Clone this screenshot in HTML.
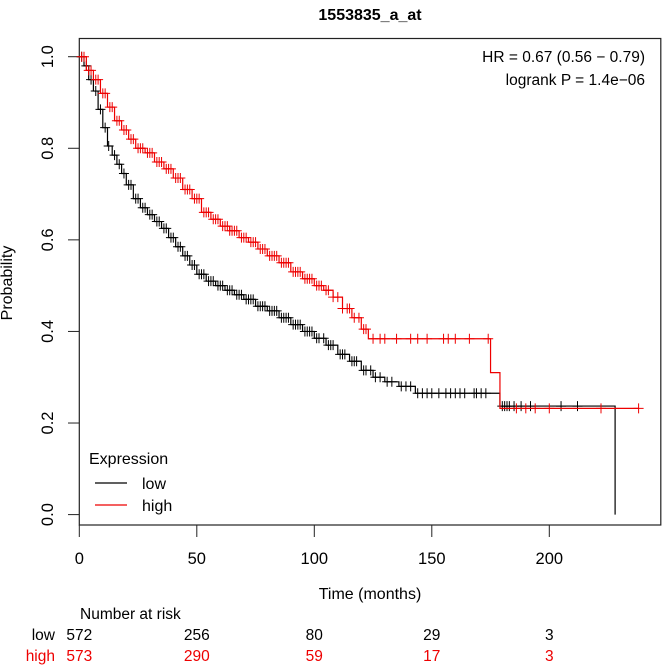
<!DOCTYPE html>
<html><head><meta charset="utf-8"><style>
body{margin:0;background:#fff;}
svg{display:block;font-family:"Liberation Sans",Arial,sans-serif;}
</style></head><body>
<svg id="chart" width="662" height="665" viewBox="0 0 662 665">
<text x="370" y="20" text-anchor="middle" font-size="16" font-weight="bold">1553835_a_at</text>
<rect x="79.3" y="38.5" width="581.5" height="486.5" fill="none" stroke="#222" stroke-width="1.2"/>
<g id="xaxis"></g>
<g id="yaxis"></g>
<text transform="translate(12,283) rotate(-90)" text-anchor="middle" font-size="16">Probability</text>
<text x="370" y="599" text-anchor="middle" font-size="16">Time (months)</text>
<g id="curves"></g>
<text x="645" y="62" text-anchor="end" font-size="15.5">HR = 0.67 (0.56 − 0.79)</text>
<text x="645" y="85" text-anchor="end" font-size="15.5">logrank P = 1.4e−06</text>
<g>
<text x="89" y="464" font-size="16">Expression</text>
<line x1="95" y1="483" x2="127" y2="483" stroke="#000" stroke-width="1.2"/>
<text x="142" y="489" font-size="16">low</text>
<line x1="95" y1="505" x2="127" y2="505" stroke="#e00" stroke-width="1.2"/>
<text x="142" y="511" font-size="16">high</text>
</g>
<text x="80" y="619" font-size="15.5">Number at risk</text>
<text x="55" y="640" text-anchor="end" font-size="15.5">low</text>
<text x="55" y="661" text-anchor="end" font-size="15.5" fill="#e00">high</text>
<g id="risk"></g>
</svg>
<script>
const xTicks=[0,50,100,150,200];
const yTicks=[0,0.2,0.4,0.6,0.8,1.0];
const yTickLabels=["0.0","0.2","0.4","0.6","0.8","1.0"];
const riskLow=[572,256,80,29,3];
const riskHigh=[573,290,59,17,3];
const lowTimes=[0,2,4,6,8,10,12,14,16,18,20,23,26,29,32,35,38,41,44,47,50,54,58,62,66,70,75,80,85,90,95,100,105,110,115,120,125,130,136,143,179,228];
const lowSurv=[1,.98,.95,.925,.885,.845,.805,.785,.765,.745,.72,.69,.67,.655,.64,.625,.605,.585,.565,.545,.525,.51,.5,.49,.48,.47,.455,.445,.43,.415,.40,.385,.37,.35,.335,.315,.30,.29,.28,.265,.237,0];
const lowEnd=228;
const highTimes=[0,3,6,9,12,15,18,21,24,28,32,36,40,44,48,52,56,60,64,68,72,76,80,85,90,95,100,104,108,112,116,120,123,175,179];
const highSurv=[1,.97,.95,.92,.89,.86,.84,.82,.80,.79,.77,.755,.735,.71,.69,.66,.645,.63,.62,.605,.595,.58,.565,.55,.53,.515,.50,.49,.475,.45,.43,.405,.384,.31,.232];
const highEnd=238;
const lowCens=[1,3,5,7,9,11,12.5,15,17,19,21,22,24,25,27,28,30,31,33,34,36,37,39,40,42,43,45,46,48,49,51,52,53,55,56,57,59,60,61,63,64,65,67,68,69,71,72,73,74,76,77,78,79,81,82,83,84,86,87,88,89,91,92,93,94,96,97,98,99,101,102,104,106,107,108,111,112,113,116,117,118,121,122,124,126,128,131,133,137,139,141,144,146,148,150,153,156,158,160,162,164,168,169,171,173,180,181,182,183,185,188,192,205,212];
const highCens=[1,2,4,5,7,8,10,11,13,14,16,17,19,20,22,23,25,26,27,29,30,31,33,34,35,37,38,39,41,42,43,45,46,47,49,50,51,53,54,55,57,58,59,61,62,63,64,65,66,67,69,70,71,73,74,75,77,78,79,81,82,83,84,86,87,88,89,91,92,93,94,96,97,98,99,101,102,103,105,106,108,110,112,114,115,117,119,121,122,125,128,130,135,141,144,148,155,157,160,166,174,186,190,194,200,222,238];
const NS="http://www.w3.org/2000/svg";
const xS=t=>79.3+t*2.35;
const yS=v=>514.6-v*457.9;
function mk(tag,attrs,parent){const e=document.createElementNS(NS,tag);for(const k in attrs)e.setAttribute(k,attrs[k]);parent.appendChild(e);return e;}
const xa=document.getElementById('xaxis'),ya=document.getElementById('yaxis');
xTicks.forEach(t=>{
 const l=mk('line',{x1:xS(t),x2:xS(t),y1:525,y2:537,stroke:'#222'},xa);
 
 
 const tx=mk('text',{x:xS(t),y:564,'text-anchor':'middle','font-size':'16.5'},xa);tx.textContent=t;
 
 
});
yTicks.forEach((v,i)=>{
 const l=mk('line',{x1:68,x2:79.3,y1:yS(v),y2:yS(v),stroke:'#222'},ya);
 
 
 const tx=mk('text',{transform:`translate(53,${yS(v)}) rotate(-90)`,'text-anchor':'middle','font-size':'16.5'},ya);tx.textContent=yTickLabels[i];
 
 
});
const cg=document.getElementById('curves');
function survAt(times,surv,t){let s=surv[0];for(let i=0;i<times.length;i++){if(times[i]<=t)s=surv[i];}return s;}
function drawCurve(times,surv,end,cens,col,name){
 let d=`M${xS(times[0])},${yS(surv[0])}`;
 for(let i=1;i<times.length;i++){d+=`H${xS(times[i])}V${yS(surv[i])}`;}
 d+=`H${xS(end)}`;
 const p=mk('path',{d:d,fill:'none',stroke:col,'stroke-width':'1.2'},cg);
 
 
 cens.forEach(t=>{
  const x=xS(t),y=yS(survAt(times,surv,t));
  const c=mk('path',{d:`M${x-5},${y}H${x+5}M${x},${y-5}V${y+5}`,stroke:col,'stroke-width':'1'},cg);
  
  
 });
}
drawCurve(lowTimes,lowSurv,lowEnd,lowCens,'#000','low');
drawCurve(highTimes,highSurv,highEnd,highCens,'#e00','high');
const rg=document.getElementById('risk');
xTicks.forEach((t,i)=>{
 const a=mk('text',{x:xS(t),y:640,'text-anchor':'middle','font-size':'15.5'},rg);a.textContent=riskLow[i];
 
 
 const b=mk('text',{x:xS(t),y:661,'text-anchor':'middle','font-size':'15.5',fill:'#e00'},rg);b.textContent=riskHigh[i];
 
 
});
</script>
</body></html>
